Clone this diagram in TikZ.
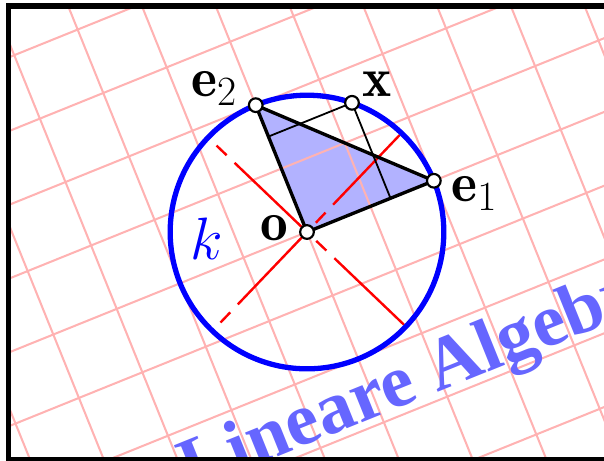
\documentclass[tikz,border=0pt]{standalone}
\usepackage{fontspec}
\newfontfamily\timesfont{Liberation Serif}
\begin{document}
\begin{tikzpicture}[
  gridline/.style={draw=red!30, line width=0.85pt},
  redaxis/.style={draw=red, line width=1pt,
     dash pattern=on 0.205cm off 0.161cm on 1.49cm off 0.161cm},
  edge/.style={draw=black, line width=1.4pt},
  proj/.style={draw=black, line width=0.75pt},
  pt/.style={circle, draw=black, fill=white, line width=0.9pt,
     minimum size=0.2cm, inner sep=0pt},
  lab/.style={inner sep=0pt, anchor=base west, font=\fontsize{23}{27}\selectfont},
  frame/.style={draw=black, line width=2.3pt}
]
\useasboundingbox (-4.488,-3.333) rectangle (4.342,3.392);
\coordinate (o) at (0,0);
\begin{scope}[rotate=22]
  \coordinate (e1) at (2,0);
  \coordinate (e2) at (0,2);
  \coordinate (x) at (48.8:2);
  \coordinate (xa) at (1.317,0);
  \coordinate (xb) at (0,1.505);
\end{scope}
% filled triangle
\fill[blue!30] (o) -- (e1) -- (e2) -- cycle;
% rotated grid and title
\begin{scope}
  \clip (-4.364,-3.326) rectangle (6,3.307);
  \begin{scope}[rotate=22]
    \foreach \i in {-10,...,10} {
      \draw[gridline] (\i,-10) -- (\i,10);
      \draw[gridline] (-10,\i) -- (10,\i);
    }
  \end{scope}
  \node[inner sep=0pt, anchor=base west, rotate=22, text=blue!60,
        font=\timesfont\bfseries\fontsize{31}{36}\selectfont]
        (title) at (-1.70,-3.80) {Lineare Algebra};
\end{scope}
% red axes
\coordinate (r1a) at (226.3:1.83);
\coordinate (r1b) at (46.3:1.96);
\coordinate (r2a) at (136.3:1.83);
\coordinate (r2b) at (-43.7:1.96);
\draw[redaxis] (r1a) -- (r1b);
\draw[redaxis] (r2a) -- (r2b);
% projection lines
\draw[proj] (x) -- (xa);
\draw[proj] (x) -- (xb);
% triangle edges
\draw[edge] (o) -- (e1) -- (e2) -- cycle;
% circle k
\node[circle, draw=blue, line width=2.2pt, minimum size=4cm, inner sep=0pt] (k) at (o) {};
% points
\node[pt] (po) at (o) {};
\node[pt] (pe1) at (e1) {};
\node[pt] (pe2) at (e2) {};
\node[pt] (px) at (x) {};
% labels
\node[lab] (le2) at (-1.70,1.974) {$\mathbf{e}_2$};
\node[lab] (lx) at (0.80,1.974) {$\mathbf{x}$};
\node[lab] (le1) at (2.105,0.45) {$\mathbf{e}_1$};
\node[lab] (lo) at (-0.68,-0.117) {$\mathbf{o}$};
\node[lab, text=blue] (lk) at (-1.711,-0.40) {$k$};
% frame
\draw[frame] (6,3.307) -- (-4.364,3.307) -- (-4.364,-3.326) -- (6,-3.326);
\end{tikzpicture}
\end{document}
